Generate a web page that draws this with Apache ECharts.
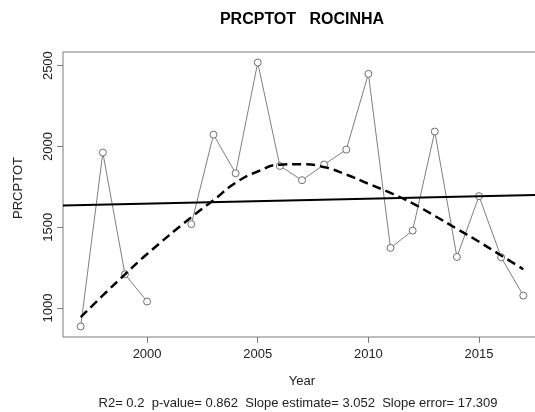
<!DOCTYPE html>
<html>
<head>
<meta charset="utf-8">
<script src="https://cdn.jsdelivr.net/npm/echarts@6/dist/echarts.min.js"></script>
<style>
  html, body { margin: 0; padding: 0; background: #fff; }
  #chart { width: 535px; height: 412px; }
</style>
</head>
<body>
<div id="chart"></div>
<script>
// Annual total precipitation (PRCPTOT) at Rocinha; 2001 has no record.
const years = [1997, 1998, 1999, 2000, 2001, 2002, 2003, 2004, 2005, 2006, 2007,
               2008, 2009, 2010, 2011, 2012, 2013, 2014, 2015, 2016, 2017];
const prcptot = [886, 1962, 1209, 1040, null, 1519, 2073, 1834, 2519, 1879, 1791,
                 1888, 1980, 2449, 1372, 1479, 2092, 1316, 1692, 1314, 1077];
// Local smooth fit of the series (dashed curve)
const smoothFit = [943, 1078, 1208, 1334, null, 1562, 1667, 1775, 1845, 1887, 1890,
                   1872, 1826, 1769, 1712, 1647, 1570, 1490, 1410, 1325, 1240];
// Linear trend: slope per year and fitted value at an anchor year
const slopeEstimate = 3.052;
const trendAnchorYear = 2007;
const trendAnchorValue = 1667;

const xTicks = [2000, 2005, 2010, 2015];
const yTicks = [1000, 1500, 2000, 2500];

const mainTitle = 'PRCPTOT   ROCINHA';
const xTitle = 'Year';
const yTitle = 'PRCPTOT';
const statsLine = 'R2= 0.2  p-value= 0.862  Slope estimate= 3.052  Slope error= 17.309';

// Axis ranges padded by 4% on each side
function padded(vals) {
  const v = vals.filter(d => d !== null);
  const lo = Math.min(...v), hi = Math.max(...v);
  const p = (hi - lo) * 0.04;
  return [lo - p, hi + p];
}
const [xMin, xMax] = padded(years);
const [yMin, yMax] = padded(prcptot);

const trendAt = x => trendAnchorValue + slopeEstimate * (x - trendAnchorYear);

const FONT = '"Liberation Sans", Arial, sans-serif';
const GREY = '#7a7a7a';

const chart = echarts.init(document.getElementById('chart'), null, { renderer: 'canvas' });

chart.setOption({
  animation: false,
  backgroundColor: '#ffffff',
  grid: {
    left: 63, top: 52, width: 478, height: 285,
    outerBoundsMode: 'none',
    show: true, borderColor: GREY, borderWidth: 1, backgroundColor: 'transparent'
  },
  xAxis: {
    type: 'value', min: xMin, max: xMax,
    splitLine: { show: false },
    axisLine: { show: false },
    axisTick: { show: true, customValues: xTicks, length: 6, lineStyle: { color: GREY, width: 1 } },
    axisLabel: {
      customValues: xTicks, formatter: v => String(v),
      fontFamily: FONT, fontSize: 13, color: '#222', margin: 11
    }
  },
  yAxis: {
    type: 'value', min: yMin, max: yMax,
    splitLine: { show: false },
    axisLine: { show: false },
    axisTick: { show: true, customValues: yTicks, length: 6, lineStyle: { color: GREY, width: 1 } },
    axisLabel: {
      customValues: yTicks, formatter: v => String(v), rotate: 90,
      fontFamily: FONT, fontSize: 13, color: '#222', margin: 8
    }
  },
  graphic: [
    { type: 'text', style: { text: mainTitle, x: 302, y: 20, fill: '#000',
      font: 'bold 16px ' + FONT, textAlign: 'center', textVerticalAlign: 'middle' } },
    { type: 'text', style: { text: xTitle, x: 302, y: 381, fill: '#222',
      font: '13px ' + FONT, textAlign: 'center', textVerticalAlign: 'middle' } },
    { type: 'text', style: { text: statsLine, x: 298, y: 403, fill: '#222',
      font: '13px ' + FONT, textAlign: 'center', textVerticalAlign: 'middle' } },
    { type: 'text', x: 18, y: 188, rotation: Math.PI / 2, style: { text: yTitle, x: 0, y: 0, fill: '#222',
      font: '13px ' + FONT, textAlign: 'center', textVerticalAlign: 'middle' } }
  ],
  series: [
    {
      type: 'line', name: 'observed',
      data: years.map((y, i) => [y, prcptot[i]]),
      connectNulls: false,
      symbol: 'circle', symbolSize: 7,
      itemStyle: { color: '#fff', borderColor: '#6e6e6e', borderWidth: 1 },
      lineStyle: { color: '#808080', width: 1 },
      z: 2
    },
    {
      type: 'line', name: 'smooth',
      data: years.map((y, i) => [y, smoothFit[i]]),
      connectNulls: true, smooth: true, showSymbol: false, symbol: 'none',
      lineStyle: { color: '#000', width: 2.5, type: [9, 5] },
      z: 3
    },
    {
      type: 'line', name: 'trend',
      data: [[xMin, trendAt(xMin)], [xMax, trendAt(xMax)]],
      showSymbol: false, symbol: 'none',
      lineStyle: { color: '#000', width: 2 },
      z: 3
    }
  ]
});
</script>
</body>
</html>
